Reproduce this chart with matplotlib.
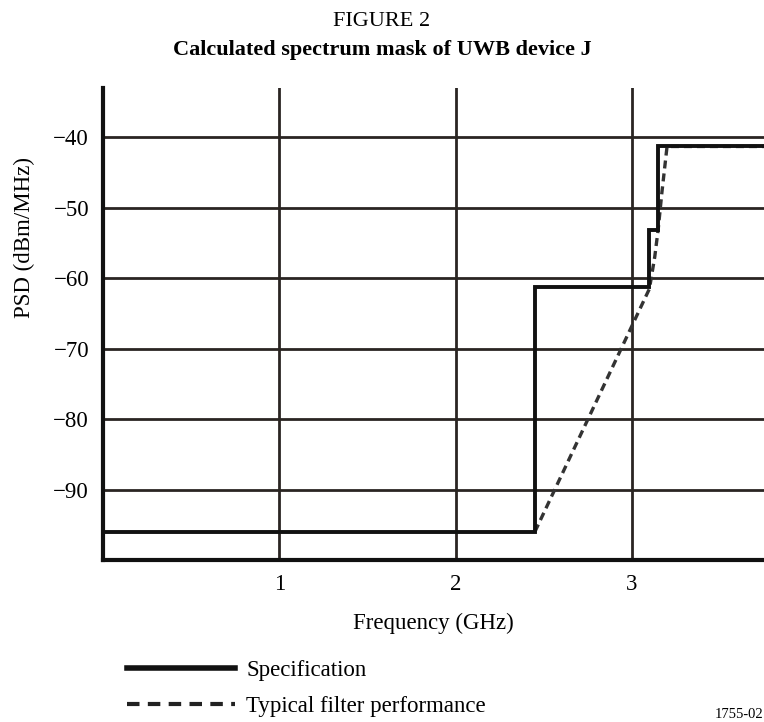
import matplotlib.pyplot as plt
from matplotlib.lines import Line2D

plt.rcParams['font.family'] = ['Liberation Serif', 'DejaVu Serif']

# Specification mask (GHz, dBm/MHz)
spec_freq = [0.0, 2.45, 2.45, 3.10, 3.10, 3.15, 3.15, 3.75]
spec_psd = [-96, -96, -61.3, -61.3, -53.2, -53.2, -41.3, -41.3]

# Typical filter performance
filt_freq = [2.45, 3.10, 3.13, 3.15, 3.17, 3.20, 3.75]
filt_psd = [-96, -61.5, -57, -53, -48, -41.3, -41.3]

x_ticks = [1, 2, 3]
y_ticks = [-90, -80, -70, -60, -50, -40]
y_labels = ['\u221290', '\u221280', '\u221270', '\u221260', '\u221250', '\u221240']

fig = plt.figure(figsize=(7.64, 7.22), dpi=100)
ax = fig.add_axes([103 / 764, 1 - 560 / 722, 1 - 103 / 764, (560 - 88) / 722])

ax.plot(filt_freq, filt_psd, color='#333333', lw=2.4, ls=(0, (2.4, 1.5)), zorder=3)
ax.plot(spec_freq, spec_psd, color='#111111', lw=2.8, zorder=4,
        solid_joinstyle='miter')

ax.set_xlim(0, 3.75)
ax.set_ylim(-100, -33)
ax.set_xticks(x_ticks)
ax.set_yticks(y_ticks)
ax.set_yticklabels(y_labels)
ax.tick_params(length=0, labelsize=16.5, pad=10)
ax.grid(True, color='#2a2522', lw=2)
ax.set_axisbelow(True)
for s in ['top', 'right']:
    ax.spines[s].set_visible(False)
for s in ['left', 'bottom']:
    ax.spines[s].set_linewidth(3)
    ax.spines[s].set_color('#111111')

ax.set_xlabel('Frequency (GHz)', fontsize=16.5, labelpad=13)
ax.set_ylabel('PSD (dBm/MHz)', fontsize=16.5)
ax.yaxis.set_label_coords(-0.103, 0.684)

fig.text(0.5, 1 - 22 / 722, 'FIGURE 2', ha='center', va='center', fontsize=16)
fig.text(0.5, 1 - 50 / 722, 'Calculated spectrum mask of UWB device J',
         ha='center', va='center', fontsize=16, fontweight='bold')

handles = [Line2D([], [], color='#111111', lw=4),
           Line2D([], [], color='#222222', lw=3, ls=(0, (3, 2)))]
fig.legend(handles, ['Specification', 'Typical filter performance'],
           loc='upper left', bbox_to_anchor=(118 / 764, 1 - 651 / 722),
           frameon=False, fontsize=16.5, handlelength=4.7, handletextpad=0.5,
           labelspacing=0.65, borderaxespad=0)

fig.text(763 / 764, 1 - 715 / 722, '1755-02', fontsize=10.5, va='center', ha='right')

fig.savefig('out.png', dpi=100)
